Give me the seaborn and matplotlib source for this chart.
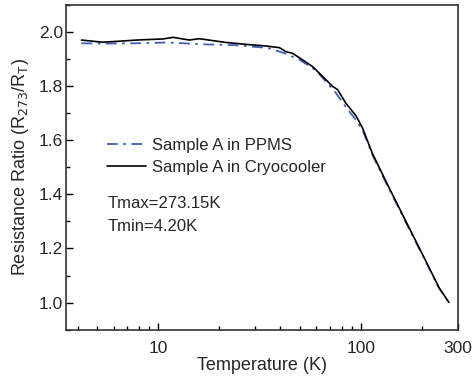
import numpy as np
import pandas as pd
import matplotlib
matplotlib.use("Agg")
import matplotlib.pyplot as plt
import seaborn as sns
from matplotlib.ticker import FixedLocator, NullFormatter, MultipleLocator, FormatStrFormatter

sns.set_style("ticks")
plt.rcParams['font.family'] = ['Liberation Sans', 'DejaVu Sans']
plt.rcParams['axes.spines.top'] = True
plt.rcParams['axes.spines.right'] = True

# Data
T_cryo = [4.17, 5.3, 6.5, 7.8, 10.5, 11.8, 14.2, 15.9, 18.5, 21.6, 27.1, 34.0, 39.5, 42.6, 45.9,
          49.5, 57.6, 64.5, 72.3, 76.5, 84.0, 94.2, 101.5, 113.7, 137.4, 166.0, 200.5, 242.0, 271.0]
R_cryo = [1.969, 1.961, 1.965, 1.969, 1.973, 1.979, 1.969, 1.974, 1.967, 1.960, 1.953, 1.947, 1.941,
          1.926, 1.920, 1.904, 1.871, 1.835, 1.798, 1.786, 1.736, 1.690, 1.645, 1.550, 1.424, 1.301,
          1.179, 1.056, 1.001]
T_ppms = [4.17, 5.3, 7.8, 11.0, 17.0, 24.0, 32.0, 35.0, 42.0, 49.5, 60.0, 68.0, 75.0, 84.0, 94.0,
          101.5, 113.7, 137.4, 166.0, 200.5, 242.0, 271.0]
R_ppms = [1.957, 1.956, 1.957, 1.960, 1.953, 1.950, 1.942, 1.939, 1.920, 1.897, 1.857, 1.810, 1.774,
          1.722, 1.675, 1.638, 1.545, 1.419, 1.297, 1.176, 1.054, 1.000]
labels = ["Sample A in PPMS", "Sample A in Cryocooler"]

df = pd.concat([
    pd.DataFrame({"T": T_ppms, "R": R_ppms, "Series": labels[0]}),
    pd.DataFrame({"T": T_cryo, "R": R_cryo, "Series": labels[1]}),
])

fig = plt.figure(figsize=(4.72, 3.79), dpi=100)
ax = fig.add_axes([0.140, 0.130, 0.830, 0.858])

sns.lineplot(data=df[df.Series == labels[0]], x="T", y="R", ax=ax, color="#4060b8",
             lw=1.3, linestyle=(0, (6, 3, 1.5, 3)), estimator=None, sort=False, label=labels[0])
sns.lineplot(data=df[df.Series == labels[1]], x="T", y="R", ax=ax, color="black",
             lw=1.2, estimator=None, sort=False, label=labels[1])

ax.set_xscale("log")
ax.set_xlim(3.5, 300)
ax.set_ylim(0.9, 2.1)
ax.xaxis.set_major_locator(FixedLocator([10, 100, 300]))
ax.set_xticklabels(["10", "100", "300"])
minor = [4, 5, 6, 7, 8, 9, 20, 30, 40, 50, 60, 70, 80, 90, 200]
ax.xaxis.set_minor_locator(FixedLocator(minor))
ax.xaxis.set_minor_formatter(NullFormatter())
ax.yaxis.set_major_locator(MultipleLocator(0.2))
ax.yaxis.set_minor_locator(MultipleLocator(0.1))
ax.yaxis.set_major_formatter(FormatStrFormatter("%.1f"))
ax.tick_params(which="both", direction="in", labelsize=12.5, color="black", width=1,
               top=False, right=False)
ax.tick_params(which="major", length=5)
ax.tick_params(which="minor", length=3)
ax.tick_params(axis="x", which="both", pad=8)
ax.tick_params(axis="y", which="both", pad=2)
for name in ["left", "right", "top", "bottom"]:
    sp = ax.spines[name]
    sp.set_visible(True)
    sp.set_linewidth(1.2)
    sp.set_color("#333333")
    sp.set_zorder(5)

ax.set_xlabel("Temperature (K)", fontsize=13, labelpad=1)
ax.set_ylabel(r"Resistance Ratio (R$_{273}$/R$_{\mathregular{T}}$)", fontsize=13, labelpad=6)

leg = ax.legend(loc="upper left", bbox_to_anchor=(0.105, 0.589), frameon=False, fontsize=12,
                handlelength=2.35, handletextpad=0.35, labelspacing=0.4, borderaxespad=0,
                borderpad=0)
ax.text(0.107, 0.41, "Tmax=273.15K\nTmin=4.20K", transform=ax.transAxes, fontsize=12,
        va="top", ha="left", linespacing=1.65)

fig.savefig("out.png", dpi=100)
